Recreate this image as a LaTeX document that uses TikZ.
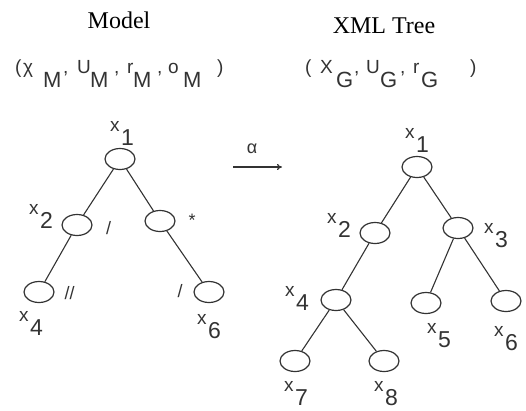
\documentclass[tikz,border=0pt]{standalone}
\usepackage{fontspec}
\setmainfont{Liberation Serif}
\newfontfamily\lsans{Liberation Sans}
\usetikzlibrary{shapes.geometric,arrows.meta}
\newcommand\xl[1]{\lsans\raisebox{14pt}{\fontsize{19}{19}\selectfont x}\hspace{1.5pt}{\fontsize{23}{23}\selectfont #1}}
\newcommand\tU[2]{\makebox[#1pt][l]{\raisebox{14pt}{\fontsize{19}{19}\selectfont #2}}}
\newcommand\tD[2]{\makebox[#1pt][l]{\fontsize{22}{22}\selectfont #2}}
\begin{document}
\begin{tikzpicture}[x=1pt,y=-1pt,
  nd/.style={draw=black!80, line width=1.2pt, ellipse, minimum width=30pt, minimum height=21pt, inner sep=0pt},
  lbl/.style={anchor=base west, inner sep=0pt, text=black!80},
  edg/.style={draw=black!80, line width=1.1pt},
  elab/.style={inner sep=0pt, text=black!80, font=\lsans\fontsize{18}{18}\selectfont},
  ttl/.style={anchor=base, inner sep=0pt, font=\fontsize{24}{24}\selectfont}]
\useasboundingbox (0,0) rectangle (526,410);
% titles
\node[ttl] (tm) at (119,28) {Model};
\node[ttl] (tx) at (384,33) {XML Tree};
\node[lbl, font=\lsans] (tupm) at (15,87) {\tU{8}{(}\tU{20}{χ}\tD{20}{M}\tU{14}{,}\tU{13}{U}\tD{24}{M}\tU{13}{,}\tU{6}{r}\tD{24}{M}\tU{11}{,}\tU{15}{o}\tD{34}{M}\tU{6}{)}};
\node[lbl, font=\lsans] (tupx) at (305,87) {\tU{15}{(}\tU{16}{X}\tD{18}{G}\tU{12}{,}\tU{14}{U}\tD{20}{G}\tU{13}{,}\tU{8}{r}\tD{49}{G}\tU{6}{)}};
% model tree
\node[nd] (m1) at (120,159) {};
\node[nd] (m2) at (77,225) {};
\node[nd] (m3) at (160,221) {};
\node[nd] (m4) at (39,292) {};
\node[nd] (m6) at (209,292) {};
\draw[edg] (m1) -- (m2);
\draw[edg] (m1) -- (m3);
\draw[edg] (m2) -- (m4);
\draw[edg] (m3) -- (m6);
\node[lbl] (lm1) at (110,145) {\xl{1}};
\node[lbl] (lm2) at (29,228) {\xl{2}};
\node[lbl] (lm4) at (19,335) {\xl{4}};
\node[lbl] (lm6) at (197,338) {\xl{6}};
\node[elab] (s1) at (108.5,228.5) {/};
\node[elab] (s2) at (192,220) {*};
\node[elab] (s3) at (69.5,293.5) {//};
\node[elab] (s4) at (180,291) {/};
% arrow
\coordinate (a0) at (233,167);
\coordinate (a1) at (282,167);
\draw[edg, -{To[length=5pt,width=6pt]}] (a0) -- (a1);
\node[elab] (al) at (252,149) {α};
% XML tree
\node[nd] (g1) at (417,167) {};
\node[nd] (g2) at (375,233) {};
\node[nd] (g3) at (458,228) {};
\node[nd] (g4) at (336,300) {};
\node[nd] (g5) at (426,303) {};
\node[nd] (g6) at (506,301) {};
\node[nd] (g7) at (295,361) {};
\node[nd] (g8) at (384,361) {};
\draw[edg] (g1) -- (g2);
\draw[edg] (g1) -- (g3);
\draw[edg] (g2) -- (g4);
\draw[edg] (g3) -- (g5);
\draw[edg] (g3) -- (g6);
\draw[edg] (g4) -- (g7);
\draw[edg] (g4) -- (g8);
\node[lbl] (lg1) at (405,152) {\xl{1}};
\node[lbl] (lg2) at (327,237) {\xl{2}};
\node[lbl] (lg3) at (484,247) {\xl{3}};
\node[lbl] (lg4) at (285,310) {\xl{4}};
\node[lbl] (lg5) at (427,347) {\xl{5}};
\node[lbl] (lg6) at (494,350) {\xl{6}};
\node[lbl] (lg7) at (284,405) {\xl{7}};
\node[lbl] (lg8) at (374,405) {\xl{8}};
\end{tikzpicture}
\end{document}
